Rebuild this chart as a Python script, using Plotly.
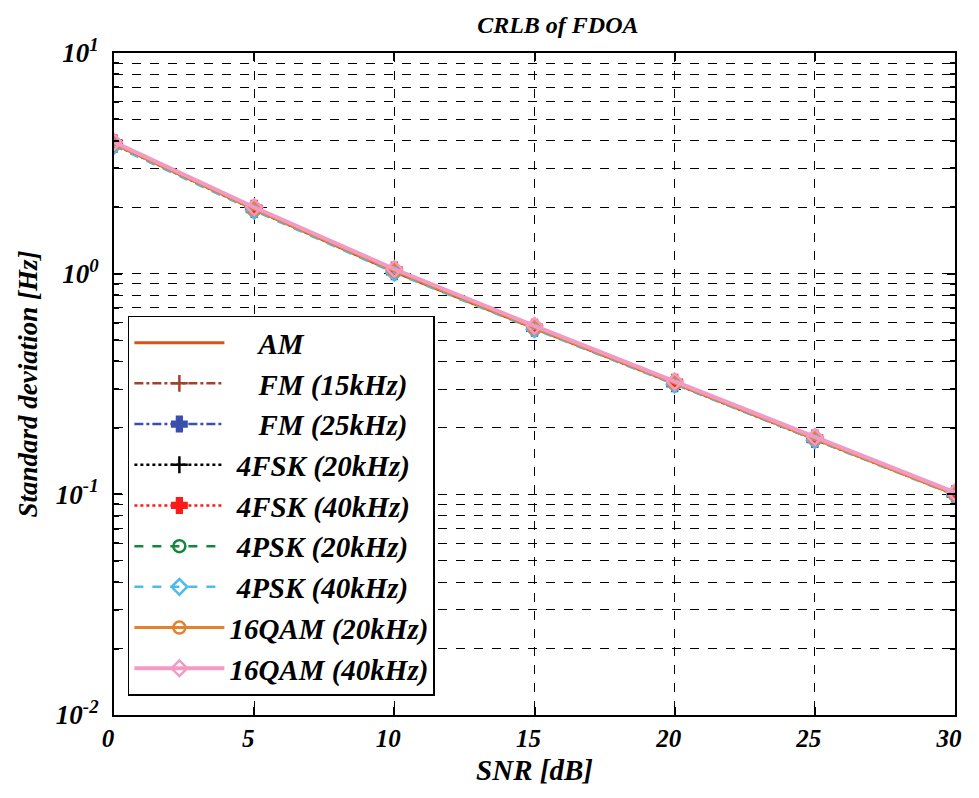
import plotly.graph_objects as go

snr = [0, 5, 10, 15, 20, 25, 30]

names = ["AM", "FM (15kHz)", "FM (25kHz)", "4FSK (20kHz)", "4FSK (40kHz)",
         "4PSK (20kHz)", "4PSK (40kHz)", "16QAM (20kHz)", "16QAM (40kHz)"]

am       = [3.88, 1.96, 1.02, 0.565, 0.318, 0.178, 0.100]
fm15     = [3.90, 1.97, 1.03, 0.570, 0.320, 0.179, 0.101]
fm25     = [3.85, 1.95, 1.02, 0.565, 0.317, 0.177, 0.100]
fsk20    = [3.90, 1.97, 1.03, 0.570, 0.320, 0.179, 0.101]
fsk40    = [3.92, 1.98, 1.04, 0.572, 0.322, 0.180, 0.101]
psk20    = [3.86, 1.95, 1.02, 0.566, 0.318, 0.178, 0.100]
psk40    = [3.80, 1.93, 1.01, 0.560, 0.315, 0.176, 0.099]
qam20    = [3.88, 1.96, 1.03, 0.568, 0.319, 0.179, 0.100]
qam40    = [3.95, 2.00, 1.05, 0.580, 0.325, 0.182, 0.102]

series = [am, fm15, fm25, fsk20, fsk40, psk20, psk40, qam20, qam40]

colors = ["#d95319", "#a0432c", "#3a4fae", "#000000", "#ff1a1a",
          "#13873a", "#4dbbee", "#e3812c", "#f29ac3"]
dashes = ["solid", "dashdot", "dashdot", "dot", "dot", "dash", "dash", "solid", "solid"]
symbols = [None, "cross-thin-open", "cross", "cross-thin-open", "cross",
           "circle-open", "diamond-open", "circle-open", "diamond-open"]
widths = [3, 2.5, 2.5, 2.5, 2.5, 2.5, 2.5, 3, 4]
pads = [4, 4, 4, 1, 1, 1, 1, 0, 0]

font_family = "Liberation Serif"

fig = go.Figure()
for i, (n, y) in enumerate(zip(names, series)):
    mode = "lines" if symbols[i] is None else "lines+markers"
    marker = dict()
    if symbols[i] is not None:
        marker = dict(symbol=symbols[i], size=12, color=colors[i],
                      line=dict(color=colors[i], width=2.5))
    fig.add_trace(go.Scatter(
        x=snr, y=y, name="\u00a0" * pads[i] + n, mode=mode,
        line=dict(color=colors[i], dash=dashes[i], width=widths[i]),
        marker=marker, legendgroup="g%d" % i,
    ))

def bi(size):
    return dict(family=font_family, size=size, color="black", weight="bold", style="italic")

minor_vals = []
for d in [0.01, 0.1, 1]:
    for k in range(2, 10):
        minor_vals.append(k * d)

grid = dict(showgrid=True, gridcolor="black", gridwidth=1.2, griddash="dash", zeroline=False)

fig.update_layout(
    width=963, height=782,
    paper_bgcolor="white", plot_bgcolor="white",
    margin=dict(l=106, r=9, t=45, b=70),
    title=dict(text="CRLB of FDOA", x=0.571, xanchor="center", y=0.99, yanchor="top",
               font=bi(24)),
    showlegend=True,
    legend=dict(
        x=0.0165, y=0.603, xanchor="left", yanchor="top",
        bgcolor="white", bordercolor="black", borderwidth=1.5,
        font=bi(29),
        tracegroupgap=0, itemwidth=90,
    ),
    xaxis=dict(
        range=[0, 30], tickvals=[0, 5, 10, 15, 20, 25, 30],
        ticks="inside", ticklen=8, tickcolor="black", tickwidth=1.5,
        showline=True, linecolor="black", linewidth=2, mirror="ticks",
        tickfont=bi(25), ticklabelshift=-6, ticklabeloverflow="allow",
        title=dict(text="SNR [dB]", font=bi(29), standoff=9),
        **grid,
    ),
    yaxis=dict(
        type="log", range=[-2, 1],
        tickvals=[0.01, 0.1, 1, 10],
        ticktext=["10<sup>-2</sup>", "10<sup>-1</sup>", "10<sup>0</sup>", "10<sup>1</sup>"],
        ticks="inside", ticklen=8, tickcolor="black", tickwidth=1.5,
        showline=True, linecolor="black", linewidth=2, mirror="ticks",
        ticklabelstandoff=8,
        minor=dict(tickvals=minor_vals, ticks="inside", ticklen=5, tickcolor="black",
                   showgrid=True, gridcolor="black", gridwidth=1.2, griddash="dash"),
        tickfont=bi(27),
        title=dict(text="Standard deviation [Hz]", font=bi(27), standoff=10),
        **grid,
    ),
)

fig.write_html("out.html", config={"displayModeBar": False})
